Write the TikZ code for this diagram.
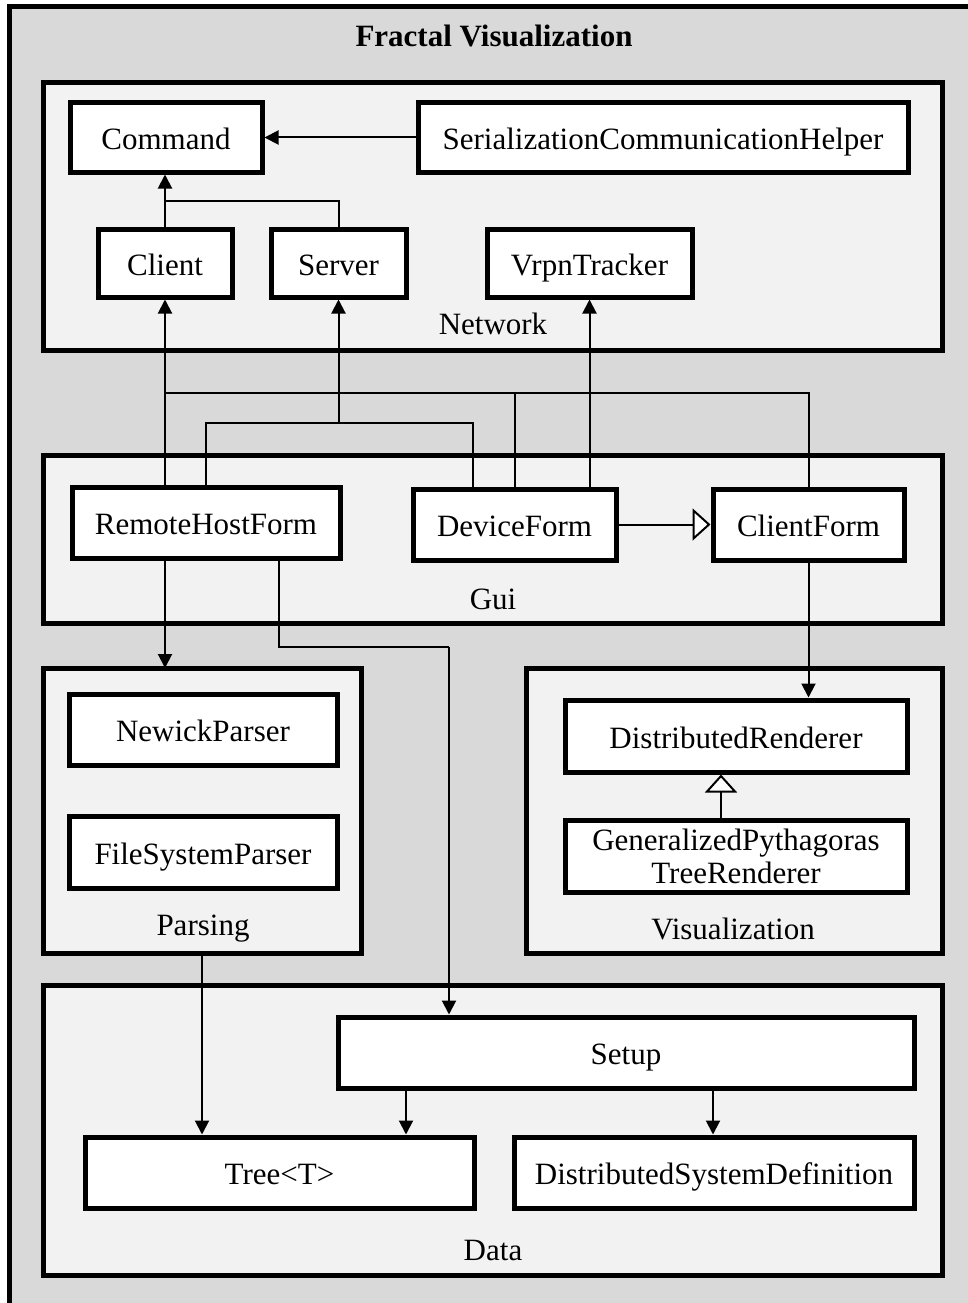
\documentclass[tikz,border=0pt]{standalone}
\usepackage{fontspec}
\setmainfont{Liberation Serif}
\usetikzlibrary{arrows.meta}
\definecolor{outerfill}{HTML}{D9D9D9}
\definecolor{pkgfill}{HTML}{F2F2F2}
\begin{document}
\begin{tikzpicture}[x=1pt,y=-1pt,
  cls/.style={draw=black, line width=5pt, fill=white, inner sep=0pt, align=center, font=\fontsize{31}{34}\selectfont, text height=27pt, text depth=3pt},
  cls2/.style={draw=black, line width=5pt, fill=white, inner sep=0pt, align=center, font=\fontsize{31}{33}\selectfont},
  pkg/.style={draw=black, line width=5pt, fill=pkgfill},
  lbl/.style={font=\fontsize{31}{34}\selectfont, inner sep=0pt},
  conn/.style={line width=2pt},
  arr/.style={conn, -{Triangle[length=14pt,width=14pt]}},
  inh/.style={conn, -{Triangle[open, fill=white, length=18pt, width=32pt, line width=2pt]}}
]
\useasboundingbox (0,0) rectangle (968,1303);
\clip (0,0) rectangle (968,1303);
% outer frame
\draw[line width=5pt, fill=outerfill] (9.5,6.5) rectangle (1010,1340);
\node[font=\bfseries\fontsize{31}{34}\selectfont, inner sep=0pt] (title) at (494,36) {Fractal Visualization};

% packages
\draw[pkg] (43,83) rectangle (942,350);
\draw[pkg] (43,455) rectangle (942,623);
\draw[pkg] (43,668) rectangle (361,953);
\draw[pkg] (526,668) rectangle (942,953);
\draw[pkg] (43,985) rectangle (942,1275);
\node[lbl] (netlbl) at (493,324) {Network};
\node[lbl] (guilbl) at (493,599) {Gui};
\node[lbl] (parslbl) at (203,929) {Parsing};
\node[lbl] (vislbl) at (733,929) {Visualization};
\node[lbl] (datalbl) at (493,1250) {Data};
\coordinate (parsing) at (202,668);
\coordinate (parsingS) at (202,953);

% classes
\node[cls, minimum width=192pt, minimum height=69pt] (cmd) at (166,137.5) {Command};
\node[cls, minimum width=490pt, minimum height=69pt] (sch) at (663,137.5) {SerializationCommunicationHelper};
\node[cls, minimum width=134pt, minimum height=68pt] (client) at (165,263) {Client};
\node[cls, minimum width=135pt, minimum height=68pt] (server) at (338.5,263) {Server};
\node[cls, minimum width=205pt, minimum height=68pt] (vrpn) at (589.5,263) {VrpnTracker};
\node[cls, minimum width=268pt, minimum height=71pt] (rhf) at (206,522.5) {RemoteHostForm};
\node[cls, minimum width=203pt, minimum height=71pt] (devf) at (514.5,524.5) {DeviceForm};
\node[cls, minimum width=191pt, minimum height=71pt] (cf) at (808.5,524.5) {ClientForm};
\node[cls, minimum width=268pt, minimum height=71pt] (newick) at (203,729.5) {NewickParser};
\node[cls, minimum width=268pt, minimum height=72pt] (fsp) at (203,852) {FileSystemParser};
\node[cls, minimum width=342pt, minimum height=72pt] (dr) at (736,736) {DistributedRenderer};
\node[cls2, minimum width=342pt, minimum height=72pt] (gptr) at (736,856) {GeneralizedPythagoras\\TreeRenderer};
\node[cls, minimum width=576pt, minimum height=71pt] (setup) at (626,1052.5) {Setup};
\node[cls, minimum width=389pt, minimum height=71pt] (tree) at (279.5,1172.5) {Tree<T>};
\node[cls, minimum width=400pt, minimum height=71pt] (dsd) at (714,1172.5) {DistributedSystemDefinition};

% junctions
\coordinate (j1) at (165,201);
\coordinate (j2) at (165,393);
\coordinate (j3) at (338.5,423);
\coordinate (j4) at (449,647);

% network connectors
\draw[arr] (sch.west) -- (cmd.east);
\draw[arr] (client.north) -- (client.north |- cmd.south);
\draw[conn] (server.north) |- (j1);

% gui -> network
\draw[arr] (client.south |- rhf.north) -- (client.south);
\draw[conn] (cf.north) |- (j2);
\draw[conn] (devf.north) -- (devf.north |- j2);
\draw[conn] (rhf.north) |- (j3);
\draw[conn] ([xshift=-41.5pt]devf.north) |- (j3);
\draw[arr] (j3) -- (server.south);
\draw[arr] (vrpn.south |- devf.north) -- (vrpn.south);
\draw[inh] (devf.east) -- (cf.west);

% gui -> below
\draw[arr] (client.south |- rhf.south) -- (client.south |- parsing);
\draw[conn] ([xshift=73pt]rhf.south) |- (j4);
\draw[arr] (j4) -- (j4 |- setup.north);
\draw[arr] (cf.south) -- (cf.south |- dr.north);
\draw[inh] ([xshift=-15pt]gptr.north) -- ([xshift=-15pt]dr.south);

% data
\draw[arr] (parsingS) -- (parsingS |- tree.north);
\draw[arr] ([xshift=-220pt]setup.south) -- ([xshift=-220pt]setup.south |- tree.north);
\draw[arr] ([xshift=87pt]setup.south) -- ([xshift=87pt]setup.south |- dsd.north);
\end{tikzpicture}
\end{document}
